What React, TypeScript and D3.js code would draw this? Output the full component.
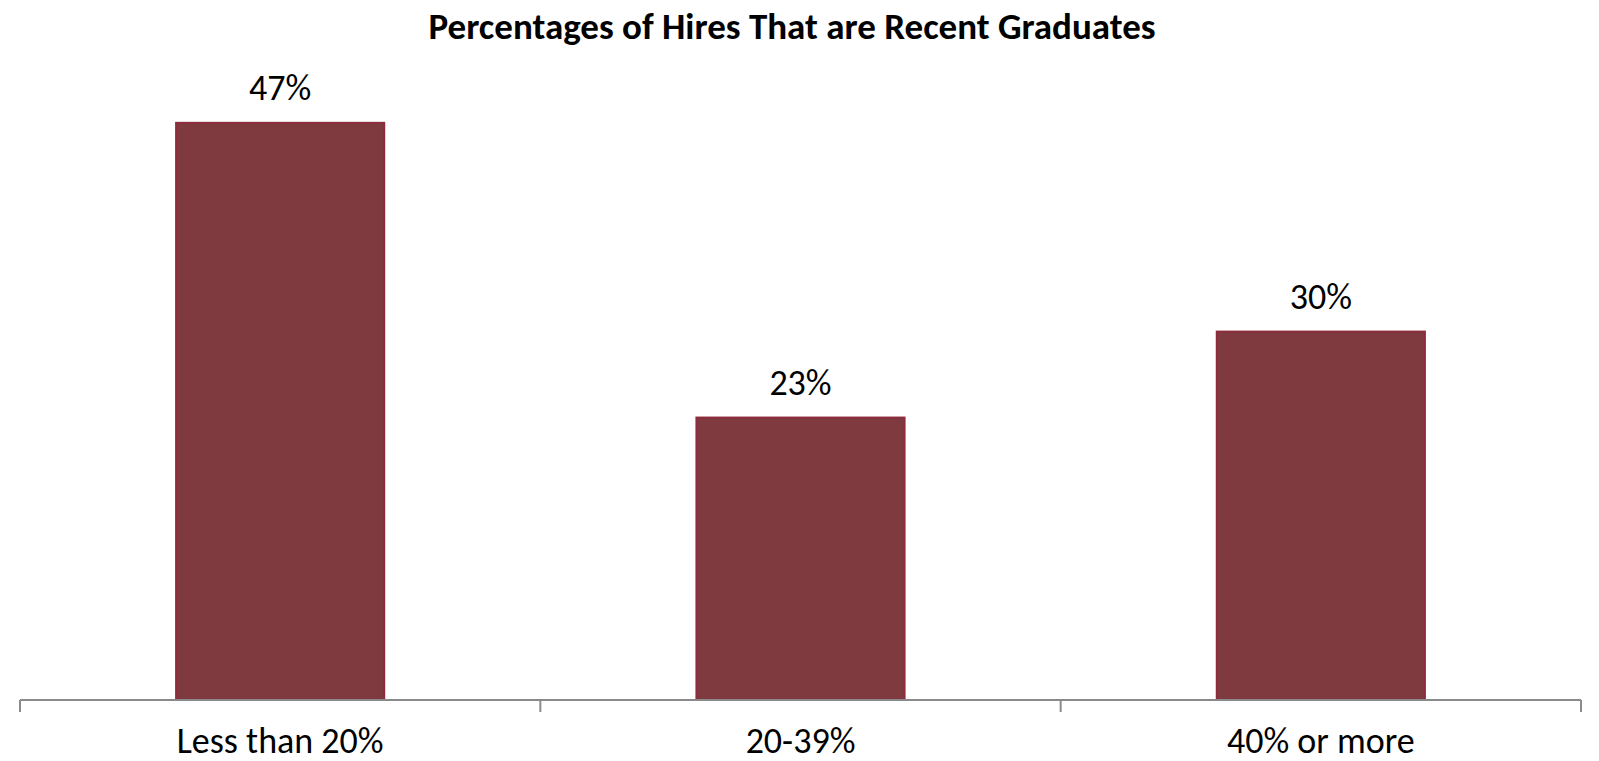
import React from "react";
import * as d3 from "d3";

const categories: string[] = ["Less than 20%", "20-39%", "40% or more"];
const values: number[] = [0.47, 0.23, 0.30];
const valueLabels: string[] = ["47%", "23%", "30%"];
const chartTitle = "Percentages of Hires That are Recent Graduates";

const W = 1599;
const H = 761;
const left = 20;
const right = 1581;
const baseY = 700;
const FONT = "Carlito, Calibri, Lato, 'Open Sans', sans-serif";

export default function App() {
  const x = d3
    .scaleBand<string>()
    .domain(categories)
    .range([left, right])
    .paddingInner(0.6)
    .paddingOuter(0.3);
  const y = d3.scaleLinear().domain([0, 0.5]).range([baseY, 86]);
  const step = x.step();
  const tickXs = d3.range(categories.length + 1).map((i) => left + i * step);

  return (
    <svg
      width={W}
      height={H}
      style={{ position: "absolute", left: 0, top: 0, background: "#fff" }}
    >
      <text
        x={792}
        y={39}
        textAnchor="middle"
        fontFamily={FONT}
        fontWeight="bold"
        fontSize={37}
        fill="#000"
      >
        {chartTitle}
      </text>
      {categories.map((c, i) => (
        <g key={c}>
          <rect
            x={x(c)!}
            y={y(values[i])}
            width={x.bandwidth()}
            height={baseY - y(values[i])}
            fill="#7e3a3f"
            stroke="#8c2c3c"
            strokeWidth={2}
          />
          <text
            x={x(c)! + x.bandwidth() / 2}
            y={y(values[i]) - 23}
            textAnchor="middle"
            fontFamily={FONT}
            fontSize={36}
            fill="#000"
          >
            {valueLabels[i]}
          </text>
          <text
            x={x(c)! + x.bandwidth() / 2}
            y={753}
            textAnchor="middle"
            fontFamily={FONT}
            fontSize={36}
            fill="#000"
          >
            {c}
          </text>
        </g>
      ))}
      <line x1={left} x2={right} y1={baseY} y2={baseY} stroke="#8a8a8a" strokeWidth={2} />
      {tickXs.map((tx, i) => (
        <line key={i} x1={tx} x2={tx} y1={baseY} y2={baseY + 12} stroke="#8a8a8a" strokeWidth={2} />
      ))}
    </svg>
  );
}
